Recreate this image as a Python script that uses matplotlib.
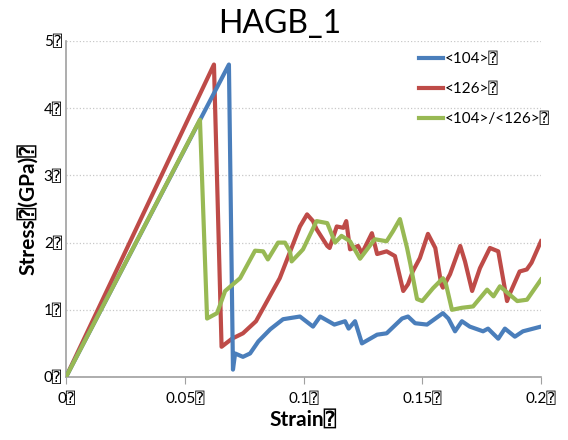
import matplotlib.pyplot as plt

plt.rcParams['font.family'] = ['Lato', 'DejaVu Sans', 'DejaVu Sans Mono']

Q = '\u2370'  # the boxed glyph shown in the original

strain_104 = [0, 0.0686, 0.0703, 0.0712, 0.0745, 0.0775, 0.081, 0.086, 0.0914, 0.0985,
              0.104, 0.107, 0.113, 0.1175, 0.119, 0.1217, 0.1246, 0.131, 0.135, 0.1415,
              0.144, 0.147, 0.152, 0.1587, 0.161, 0.1638, 0.1667, 0.170, 0.1756, 0.1777,
              0.182, 0.1848, 0.189, 0.1924, 0.2]
stress_104 = [0, 4.65, 0.11, 0.35, 0.30, 0.35, 0.53, 0.71, 0.86, 0.90,
              0.75, 0.90, 0.78, 0.83, 0.72, 0.83, 0.50, 0.63, 0.65, 0.87,
              0.90, 0.80, 0.78, 0.95, 0.87, 0.68, 0.83, 0.75, 0.68, 0.72,
              0.57, 0.72, 0.60, 0.68, 0.75]

strain_126 = [0, 0.0623, 0.0655, 0.0699, 0.0745, 0.080, 0.09, 0.0985, 0.1015, 0.104,
              0.1055, 0.11, 0.111, 0.114, 0.1168, 0.118, 0.1196, 0.123, 0.1246, 0.1288,
              0.131, 0.135, 0.1385, 0.142, 0.144, 0.146, 0.149, 0.1524, 0.1555, 0.158,
              0.1587, 0.1617, 0.166, 0.168, 0.171, 0.1743, 0.1785, 0.182, 0.1857, 0.187,
              0.191, 0.194, 0.196, 0.2]
stress_126 = [0, 4.65, 0.45, 0.57, 0.65, 0.83, 1.47, 2.24, 2.42, 2.32,
              2.20, 1.95, 1.92, 2.24, 2.22, 2.32, 1.90, 1.95, 1.84, 2.14,
              1.83, 1.87, 1.80, 1.28, 1.38, 1.57, 1.77, 2.13, 1.92, 1.38,
              1.33, 1.53, 1.95, 1.72, 1.28, 1.62, 1.92, 1.87, 1.13, 1.25,
              1.57, 1.60, 1.70, 2.02]

strain_mix = [0, 0.0564, 0.0594, 0.0636, 0.067, 0.0733, 0.0796, 0.083, 0.085, 0.0893,
              0.0922, 0.0943, 0.095, 0.0985, 0.0998, 0.1055, 0.110, 0.1133, 0.116, 0.1196,
              0.1238, 0.130, 0.135, 0.1377, 0.1406, 0.1436, 0.145, 0.1478, 0.150, 0.1545,
              0.1587, 0.160, 0.1625, 0.1667, 0.1714, 0.1773, 0.180, 0.1827, 0.190, 0.1941,
              0.2]
stress_mix = [0, 3.83, 0.87, 0.95, 1.28, 1.47, 1.88, 1.87, 1.75, 2.00,
              2.00, 1.87, 1.72, 1.85, 1.90, 2.32, 2.29, 2.00, 2.10, 2.02,
              1.76, 2.05, 2.02, 2.17, 2.35, 1.92, 1.68, 1.16, 1.13, 1.32,
              1.47, 1.38, 1.00, 1.03, 1.05, 1.30, 1.20, 1.35, 1.13, 1.15,
              1.45]

x_ticks = [0, 0.05, 0.1, 0.15, 0.2]
x_tick_labels = ['0', '0.05', '0.1', '0.15', '0.2']
y_ticks = [0, 1, 2, 3, 4, 5]

fig = plt.figure(figsize=(5.68, 4.4), dpi=100)
ax = fig.add_axes([66/568, 1 - 377/440, 475/568, 336/440])

ax.plot(strain_104, stress_104, color='#4a7ebb', lw=3, label='<104>' + Q, zorder=3)
ax.plot(strain_126, stress_126, color='#be4b48', lw=3, label='<126>' + Q, zorder=2)
ax.plot(strain_mix, stress_mix, color='#98b954', lw=3, label='<104>/<126>' + Q, zorder=4)

ax.set_xlim(0, 0.2)
ax.set_ylim(0, 5)
ax.set_xticks(x_ticks)
ax.set_xticklabels([t + Q for t in x_tick_labels], fontsize=11)
ax.set_yticks(y_ticks)
ax.set_yticklabels([str(t) + Q for t in y_ticks], fontsize=11)
ax.grid(axis='y', color='#c8c8c8', ls=':', lw=0.9)
ax.set_axisbelow(True)
for s in ['top', 'right']:
    ax.spines[s].set_visible(False)
for s in ['left', 'bottom']:
    ax.spines[s].set_color('#a0a0a0')
    ax.spines[s].set_linewidth(1.2)
ax.tick_params(axis='x', direction='out', length=5, color='#a0a0a0', pad=6)
ax.tick_params(axis='y', length=0, pad=3)

ax.set_xlabel('Strain' + Q, fontsize=15, fontweight='bold', labelpad=2)
ax.set_ylabel('Stress' + Q + '(GPa)' + Q, fontsize=15, fontweight='bold', labelpad=4)
fig.text(0.493, 0.945, 'HAGB_1', ha='center', va='center', fontsize=23)

ax.legend(loc='upper left', bbox_to_anchor=(405/568, 1 - 38/440),
          bbox_transform=fig.transFigure, frameon=False, fontsize=11,
          handlelength=1.6, handletextpad=0.1, labelspacing=1.05)

fig.savefig('out.png', dpi=100)
